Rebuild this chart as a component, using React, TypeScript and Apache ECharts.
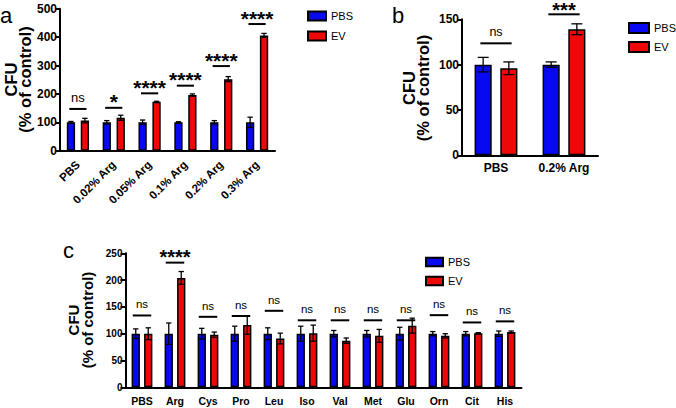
import React, { useEffect, useRef } from "react";
import * as echarts from "echarts";

const FONT = 'Arial, "Liberation Sans", Helvetica, sans-serif';
const BLUE = "#0808f2";
const RED = "#ee0808";
const seriesNames = ["PBS", "EV"];
const yTitleLines = ["CFU", "(% of control)"];

// Panel a
const aCategories = ["PBS", "0.02% Arg", "0.05% Arg", "0.1% Arg", "0.2% Arg", "0.3% Arg"];
const aPBS = [100, 100, 100, 100, 100, 100];
const aPBSErr = [3, 6, 8, 2, 6, 18];
const aEV = [106, 116, 172, 196, 252, 406];
const aEVErr = [8, 9, 2, 4, 9, 7];
const aSigY = [147, 151, 202, 229, 298, 446];
const aSigLabel = ["ns", "*", "****", "****", "****", "****"];

// Panel b
const bCategories = ["PBS", "0.2% Arg"];
const bPBS = [100, 100];
const bPBSErr = [8, 3];
const bEV = [96, 139];
const bEVErr = [7, 6];
const bSigY = [123.5, 155.5];
const bSigLabel = ["ns", "***"];

// Panel c
const cCategories = ["PBS", "Arg", "Cys", "Pro", "Leu", "Iso", "Val", "Met", "Glu", "Orn", "Cit", "His"];
const cPBS = [100, 100, 100, 100, 100, 100, 100, 100, 100, 100, 100, 100];
const cPBSErr = [9, 20, 10, 14, 11, 14, 6, 6, 12, 4, 4, 5];
const cEV = [100, 204, 98, 116, 91, 101, 87, 96, 115, 96, 101, 103];
const cEVErr = [11, 12, 5, 17, 10, 15, 5, 12, 14, 4, 1, 2];
const cSigY = [134, 232.6, 131.5, 133, 142.7, 125, 125, 125, 125, 134.6, 121, 123];
const cSigLabel = ["ns", "****", "ns", "ns", "ns", "ns", "ns", "ns", "ns", "ns", "ns", "ns"];

type Layout = {
  cg: number; bg: number; sigHalf: number; nsSize: number; starSize: number;
  nsOff: number; starOff: number;
};

const layoutA: Layout = { cg: 0.38, bg: 0.68, sigHalf: 0.24, nsSize: 13, starSize: 21, nsOff: 11, starOff: 6 };
const layoutB: Layout = { cg: 0.37, bg: 0.5, sigHalf: 0.23, nsSize: 12.5, starSize: 20, nsOff: 11, starOff: 4.5 };
const layoutC: Layout = { cg: 0.37, bg: 0.5, sigHalf: 0.28, nsSize: 11.5, starSize: 20, nsOff: 11, starOff: 6 };

function barSeries(idx: number, name: string, data: number[], color: string, L: Layout) {
  return {
    type: "bar",
    name,
    xAxisIndex: idx,
    yAxisIndex: idx,
    data,
    barCategoryGap: `${L.cg * 100}%`,
    barGap: `${L.bg * 100}%`,
    itemStyle: { color, borderColor: "#000", borderWidth: 1.5 },
    z: 2,
  };
}

function errSeries(idx: number, means: number[], errs: number[], sign: number, L: Layout) {
  return {
    type: "custom",
    xAxisIndex: idx,
    yAxisIndex: idx,
    silent: true,
    z: 5,
    data: means.map((m, i) => [i, m, errs[i]]),
    encode: { x: 0, y: 1 },
    renderItem: (params: any, api: any) => {
      const i = api.value(0);
      const m = api.value(1);
      const e = api.value(2);
      const band = api.size([1, 0])[0];
      const w = (band * (1 - L.cg)) / (2 + L.bg);
      const cx = api.coord([i, m])[0] + (sign * (w * (1 + L.bg))) / 2;
      const yt = api.coord([i, m + e])[1];
      const yb = api.coord([i, m - e])[1];
      const cap = w * 0.32;
      const st = { stroke: "#000", lineWidth: 1.3 };
      return {
        type: "group",
        children: [
          { type: "line", shape: { x1: cx, y1: yt, x2: cx, y2: yb }, style: st },
          { type: "line", shape: { x1: cx - cap, y1: yt, x2: cx + cap, y2: yt }, style: st },
          { type: "line", shape: { x1: cx - cap, y1: yb, x2: cx + cap, y2: yb }, style: st },
        ],
      };
    },
  };
}

function sigSeries(idx: number, ys: number[], labels: string[], L: Layout) {
  return {
    type: "custom",
    xAxisIndex: idx,
    yAxisIndex: idx,
    silent: true,
    clip: false,
    z: 6,
    data: ys.map((y, i) => [i, y]),
    encode: { x: 0, y: 1 },
    renderItem: (params: any, api: any) => {
      const i = api.value(0);
      const y = api.value(1);
      const band = api.size([1, 0])[0];
      const p = api.coord([i, y]);
      const half = band * L.sigHalf;
      const lab = labels[params.dataIndex];
      const isNs = lab === "ns";
      return {
        type: "group",
        children: [
          {
            type: "line",
            shape: { x1: p[0] - half, y1: p[1], x2: p[0] + half, y2: p[1] },
            style: { stroke: "#000", lineWidth: 2 },
          },
          {
            type: "text",
            x: p[0],
            y: p[1] - (isNs ? L.nsOff : L.starOff),
            style: {
              text: lab,
              fill: "#000",
              fontFamily: FONT,
              fontSize: isNs ? L.nsSize : L.starSize,
              fontWeight: isNs ? "normal" : "bold",
              lineHeight: isNs ? L.nsSize : 11,
              align: "center",
              verticalAlign: "middle",
            },
          },
        ],
      };
    },
  };
}

function xAxisCfg(idx: number, data: string[], fontSize: number, rotate: number, margin: number) {
  return {
    type: "category",
    gridIndex: idx,
    data,
    axisLine: { lineStyle: { color: "#000", width: 2 } },
    axisTick: { alignWithLabel: true, length: 4, lineStyle: { color: "#000", width: 2 } },
    axisLabel: {
      interval: 0,
      rotate,
      margin,
      color: "#000",
      fontSize,
      fontWeight: "bold",
      fontFamily: FONT,
    },
    splitLine: { show: false },
  };
}

function yAxisCfg(idx: number, max: number, interval: number, fontSize: number) {
  return {
    type: "value",
    gridIndex: idx,
    min: 0,
    max,
    interval,
    axisLine: { show: true, lineStyle: { color: "#000", width: 2 } },
    axisTick: { show: true, length: 5, lineStyle: { color: "#000", width: 2 } },
    axisLabel: { color: "#000", fontSize, fontWeight: "bold", fontFamily: FONT, margin: 3 },
    splitLine: { show: false },
  };
}

function legendCfg(left: number, top: number, w: number, h: number, gap: number, fontSize: number) {
  return {
    orient: "vertical",
    left,
    top,
    padding: 0,
    itemWidth: w,
    itemHeight: h,
    itemGap: gap,
    icon: "rect",
    selectedMode: false,
    data: seriesNames,
    textStyle: { color: "#000", fontSize, fontFamily: FONT },
  };
}

function yTitle(cx: number, cy: number, fontSize: number, lineGap: number) {
  return yTitleLines.map((t, k) => ({
    type: "text",
    x: cx + (k === 0 ? -lineGap / 2 : lineGap / 2),
    y: cy,
    rotation: Math.PI / 2,
    style: {
      text: t,
      font: `bold ${fontSize}px ${FONT}`,
      fill: "#000",
      align: "center",
      verticalAlign: "middle",
    },
  }));
}

function panelLabel(text: string, x: number, y: number) {
  return {
    type: "text",
    x,
    y,
    style: { text, fontSize: 22, fontFamily: FONT, fill: "#000", verticalAlign: "middle" },
  };
}

export default function App() {
  const ref = useRef<HTMLDivElement>(null);
  useEffect(() => {
    if (!ref.current) return;
    const chart = echarts.init(ref.current, undefined, { renderer: "svg" });
    const option: any = {
      animation: false,
      backgroundColor: "#fff",
      grid: [
        { left: 60, top: 8.7, width: 215, height: 142 },
        { left: 462, top: 19.3, width: 136, height: 136 },
        { left: 125.5, top: 253.3, width: 396, height: 134 },
      ],
      xAxis: [
        xAxisCfg(0, aCategories, 11.5, 45, 12),
        xAxisCfg(1, bCategories, 12, 0, 7),
        xAxisCfg(2, cCategories, 10.5, 0, 8),
      ],
      yAxis: [
        yAxisCfg(0, 500, 100, 12),
        yAxisCfg(1, 150, 50, 12),
        yAxisCfg(2, 250, 50, 10),
      ],
      legend: [
        legendCfg(307, 10.5, 18, 9, 9, 11),
        legendCfg(628, 22, 20, 10, 7, 11),
        legendCfg(425, 256.5, 17, 8.5, 8, 11),
      ],
      graphic: [
        panelLabel("a", 0, 15),
        panelLabel("b", 392, 15),
        panelLabel("c", 63, 250),
        ...yTitle(18, 79.5, 16.5, 14.5),
        ...yTitle(416, 88, 16.5, 14),
        ...yTitle(80.5, 320, 15, 14),
      ],
      series: [
        barSeries(0, "PBS", aPBS, BLUE, layoutA),
        barSeries(0, "EV", aEV, RED, layoutA),
        errSeries(0, aPBS, aPBSErr, -1, layoutA),
        errSeries(0, aEV, aEVErr, 1, layoutA),
        sigSeries(0, aSigY, aSigLabel, layoutA),
        barSeries(1, "PBS", bPBS, BLUE, layoutB),
        barSeries(1, "EV", bEV, RED, layoutB),
        errSeries(1, bPBS, bPBSErr, -1, layoutB),
        errSeries(1, bEV, bEVErr, 1, layoutB),
        sigSeries(1, bSigY, bSigLabel, layoutB),
        barSeries(2, "PBS", cPBS, BLUE, layoutC),
        barSeries(2, "EV", cEV, RED, layoutC),
        errSeries(2, cPBS, cPBSErr, -1, layoutC),
        errSeries(2, cEV, cEVErr, 1, layoutC),
        sigSeries(2, cSigY, cSigLabel, layoutC),
      ],
    };
    chart.setOption(option);
    return () => chart.dispose();
  }, []);
  return (
    <div
      ref={ref}
      style={{ position: "fixed", left: 0, top: 0, width: 676, height: 408 }}
    />
  );
}
